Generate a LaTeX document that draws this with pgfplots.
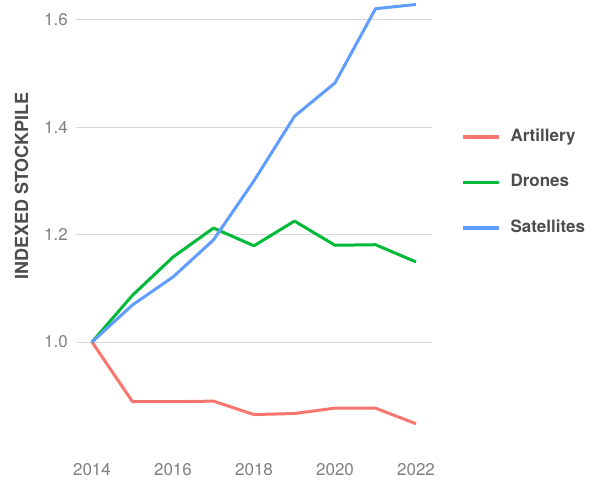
\documentclass[border=0pt]{standalone}
\usepackage{pgfplots}
\pgfplotsset{compat=1.18}
\usepackage{fontspec}
\setmainfont{TeX Gyre Heros}
\definecolor{cArt}{HTML}{F8766D}
\definecolor{cDro}{HTML}{00BA38}
\definecolor{cSat}{HTML}{619CFF}
\definecolor{tickgray}{HTML}{808080}
\definecolor{labgray}{HTML}{4D4D4D}
\definecolor{gridgray}{HTML}{D9D9D9}
\begin{document}
\begin{tikzpicture}
\useasboundingbox (0,0) rectangle (598bp,481bp);
\begin{axis}[
  at={(76bp,26bp)}, anchor=south west,
  scale only axis, width=356bp, height=455bp,
  xmin=2013.605, xmax=2022.395,
  ymin=0.7898, ymax=1.6363,
  axis line style={draw=none},
  major tick length=0pt,
  ymajorgrids, grid style={gridgray, line width=0.9bp},
  xtick={2014,2016,2018,2020,2022},
  xticklabels={2014,2016,2018,2020,2022},
  ytick={1.0,1.2,1.4,1.6},
  yticklabels={1.0,1.2,1.4,1.6},
  tick label style={font=\fontsize{17bp}{20bp}\selectfont, text=tickgray},
  xticklabel style={anchor=base, yshift=-21bp},
  yticklabel style={anchor=east, inner sep=0pt, xshift=-8bp},
  ylabel={INDEXED STOCKPILE},
  ylabel style={at={(axis description cs:-0.153,0.591)}, anchor=center, font=\bfseries\fontsize{18bp}{20bp}\selectfont, text=labgray},
  legend cell align=left,
  legend style={at={(axis description cs:1.0815,0.599)}, anchor=west, draw=none, fill=none,
    inner sep=0pt, outer sep=0pt, row sep=28.5bp, column sep=10bp,
    font=\bfseries\fontsize{17bp}{20bp}\selectfont, text=labgray,
    nodes={inner sep=0pt, text height=13bp, text depth=4bp}},
  legend image code/.code={\draw[#1, line width=3.5bp] (0bp,0bp) -- (36bp,0bp);},
]
\addplot[cArt, line width=3bp, line join=round] coordinates {
(2014,1.0) (2015,0.889) (2016,0.889) (2017,0.890) (2018,0.865) (2019,0.867) (2020,0.877) (2021,0.877) (2022,0.848)};
\addlegendentry{Artillery}
\addplot[cDro, line width=3bp, line join=round] coordinates {
(2014,1.0) (2015,1.087) (2016,1.158) (2017,1.212) (2018,1.179) (2019,1.225) (2020,1.180) (2021,1.181) (2022,1.149)};
\addlegendentry{Drones}
\addplot[cSat, line width=3bp, line join=round] coordinates {
(2014,1.0) (2015,1.069) (2016,1.121) (2017,1.190) (2018,1.300) (2019,1.420) (2020,1.482) (2021,1.620) (2022,1.628)};
\addlegendentry{Satellites}
\end{axis}
\end{tikzpicture}
\end{document}
